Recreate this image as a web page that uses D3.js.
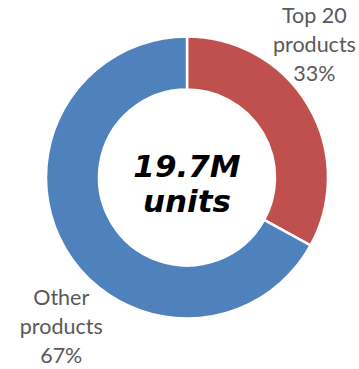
<!DOCTYPE html>
<html>
<head>
<meta charset="utf-8">
<script src="https://cdn.jsdelivr.net/npm/d3@7"></script>
<style>
  html, body { margin: 0; padding: 0; background: #fff; }
  svg { display: block; }
</style>
</head>
<body>
<div id="chart"></div>
<script>
// Share of units sold
const categories = ["Top 20 products", "Other products"];
const shares = [33, 67];
const colors = ["#C0504D", "#4F81BD"];
const centerLines = ["19.7M", "units"];

const width = 359, height = 369;
const cx = 187, cy = 177.5;
const outerR = 141, innerR = 88;

const svg = d3.select("#chart").append("svg")
  .attr("width", width).attr("height", height);

const g = svg.append("g").attr("transform", `translate(${cx},${cy})`);

const pie = d3.pie().sort(null).value(d => d.value);
const arcs = pie(categories.map((c, i) => ({ name: c, value: shares[i], color: colors[i] })));

const arc = d3.arc().innerRadius(innerR).outerRadius(outerR);

g.selectAll("path.slice").data(arcs).join("path")
  .attr("class", "slice")
  .attr("d", arc)
  .attr("fill", d => d.data.color)
  .attr("stroke", "#fff")
  .attr("stroke-width", 2.5);

// Category labels placed outside the ring
const labelAngle = [45.2, 219], labelDist = [179.6, 199.8];
const lineH = 28.8;
arcs.forEach((d, i) => {
  const a = labelAngle[i] * Math.PI / 180;
  const x = Math.sin(a) * labelDist[i];
  const y = -Math.cos(a) * labelDist[i];
  const words = d.data.name.split(" ");
  const split = i === 0 ? 2 : 1;
  const rows = [words.slice(0, split).join(" "), words.slice(split).join(" "), d3.format(".0f")(d.value) + "%"];
  const t = g.append("text")
    .attr("text-anchor", "middle")
    .attr("font-family", "Lato, 'Open Sans', sans-serif")
    .attr("font-size", 21.5)
    .attr("fill", "#595959");
  rows.forEach((r, k) => {
    t.append("tspan").attr("x", x).attr("y", y + (k - 1) * lineH + 1).text(r);
  });
});

// Total in the hole
const ct = g.append("text")
  .attr("text-anchor", "middle")
  .attr("font-family", "Verdana, 'DejaVu Sans', sans-serif")
  .attr("font-weight", "bold")
  .attr("font-style", "italic")
  .attr("font-size", 31)
  .attr("fill", "#000");
centerLines.forEach((s, k) => {
  ct.append("tspan").attr("x", 0).attr("y", -1 + k * 35).text(s);
});
</script>
</body>
</html>
